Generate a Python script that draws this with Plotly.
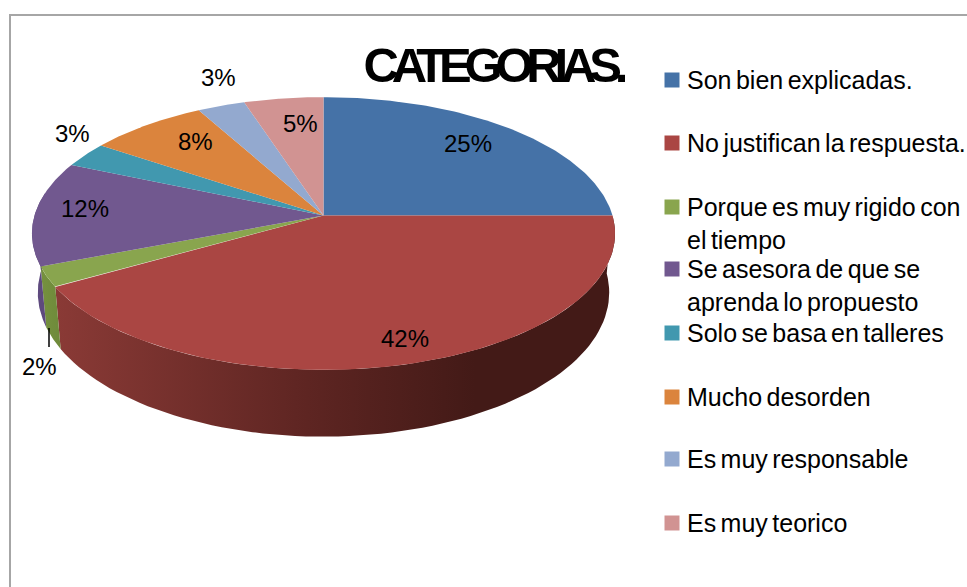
import numpy as np
import plotly.graph_objects as go

categories = [
    "Son bien explicadas.",
    "No justifican la respuesta.",
    "Porque es muy rigido con<br>el tiempo",
    "Se asesora de que se<br>aprenda lo propuesto",
    "Solo se basa en talleres",
    "Mucho desorden",
    "Es muy responsable",
    "Es muy teorico",
]
shares = [25.0, 41.7, 2.4, 12.4, 3.0, 7.5, 3.0, 5.0]
colors = ["#4572A7", "#AA4643", "#89A54E", "#71588F", "#4198AF", "#DB843D", "#93A9CF", "#D19392"]
side_scales = {
    1: [[0, "#8A3A36"], [0.45, "#5E2522"], [0.75, "#431A17"], [1, "#431A17"]],
    2: [[0, "#76913F"], [1, "#6E8A3A"]],
    3: [[0, "#5E4A7E"], [1, "#5E4A7E"]],
}
label_xy = [(468, 143), (405, 338), (39, 366), (85, 208), (72, 133), (195, 141), (218, 77), (300, 123)]
legend_y = [80, 143, 207, 269, 333, 397, 459, 523]

W, H = 967, 587
CX, CY = 323.5, 215.5
RX, RY, PERSP = 289, 134, 0.132
DEPTH = 58


def rim(theta_deg, drop=0.0):
    # circle seen in perspective, angle clockwise from 12 o'clock
    t = np.radians(theta_deg)
    w = 1 + PERSP * np.cos(t)
    scale = 0.98 if drop else 1.0
    return CX + scale * RX * np.sin(t) / w, CY - RY * np.cos(t) / w + drop / w


edges = np.cumsum([0] + shares) / sum(shares) * 360

fig = go.Figure()

# side wall first, top faces go over it
for i, sc in side_scales.items():
    start, end = max(edges[i], 90), min(edges[i + 1], 280)
    a = np.linspace(start, end, 80)
    x1, y1 = rim(a)
    x2, y2 = rim(a[::-1], DEPTH)
    fig.add_trace(go.Scatter(
        x=np.r_[x1, x2], y=np.r_[y1, y2], mode="lines", fill="toself",
        line=dict(width=0), fillgradient=dict(type="horizontal", colorscale=sc),
        hoverinfo="skip", showlegend=False,
    ))

for i, name in enumerate(categories):
    a = np.linspace(edges[i], edges[i + 1], 120)
    x, y = rim(a)
    fig.add_trace(go.Scatter(
        x=np.r_[CX, x, CX], y=np.r_[CY, y, CY], mode="lines", fill="toself",
        line=dict(width=0), fillcolor=colors[i], name=name.replace("<br>", " "),
        hoverinfo="name", showlegend=False,
    ))

# legend keys
fig.add_trace(go.Scatter(
    x=[672] * len(categories), y=legend_y, mode="markers",
    marker=dict(symbol="square", size=15, color=colors, line=dict(width=0)),
    hoverinfo="skip", showlegend=False,
))

for (lx, ly), v in zip(label_xy, shares):
    fig.add_annotation(x=lx, y=ly, text=f"{round(v)}%", showarrow=False,
                       font=dict(family="Liberation Sans", size=24, color="#000000"))

for name, ly in zip(categories, legend_y):
    lines = name.count("<br>")
    fig.add_annotation(x=687, y=ly + lines * 16, text=name, showarrow=False, xanchor="left", align="left",
                       xshift=-2, font=dict(family="Liberation Sans", size=25, color="#000000"))

fig.add_annotation(x=492, y=65, text="<b>CATEGORIAS.</b>", showarrow=False,
                   font=dict(family="Liberation Sans", size=49, color="#000000"))

fig.add_shape(type="line", x0=49, x1=49, y0=328, y1=347, line=dict(color="#000000", width=1.5))
fig.add_shape(type="rect", x0=10, x1=1100, y0=15, y1=700, line=dict(color="#A6A6A6", width=2), layer="below")

fig.update_xaxes(range=[0, W], visible=False)
fig.update_yaxes(range=[H, 0], visible=False)
fig.update_layout(
    width=W, height=H, margin=dict(l=0, r=0, t=0, b=0),
    paper_bgcolor="white", plot_bgcolor="white", showlegend=False,
)

squeeze = """
document.body.style.margin = '0';
document.querySelectorAll('.annotation-text').forEach(function (t) {
  if (t.textContent.indexOf('CATEGORIAS') >= 0) {
    t.style.letterSpacing = '-7.2px';
  } else if (t.textContent.indexOf('%') < 0) {
    t.style.wordSpacing = '-2.5px';
  }
});
"""
fig.write_html("out.html", post_script=squeeze, config=dict(displayModeBar=False))
